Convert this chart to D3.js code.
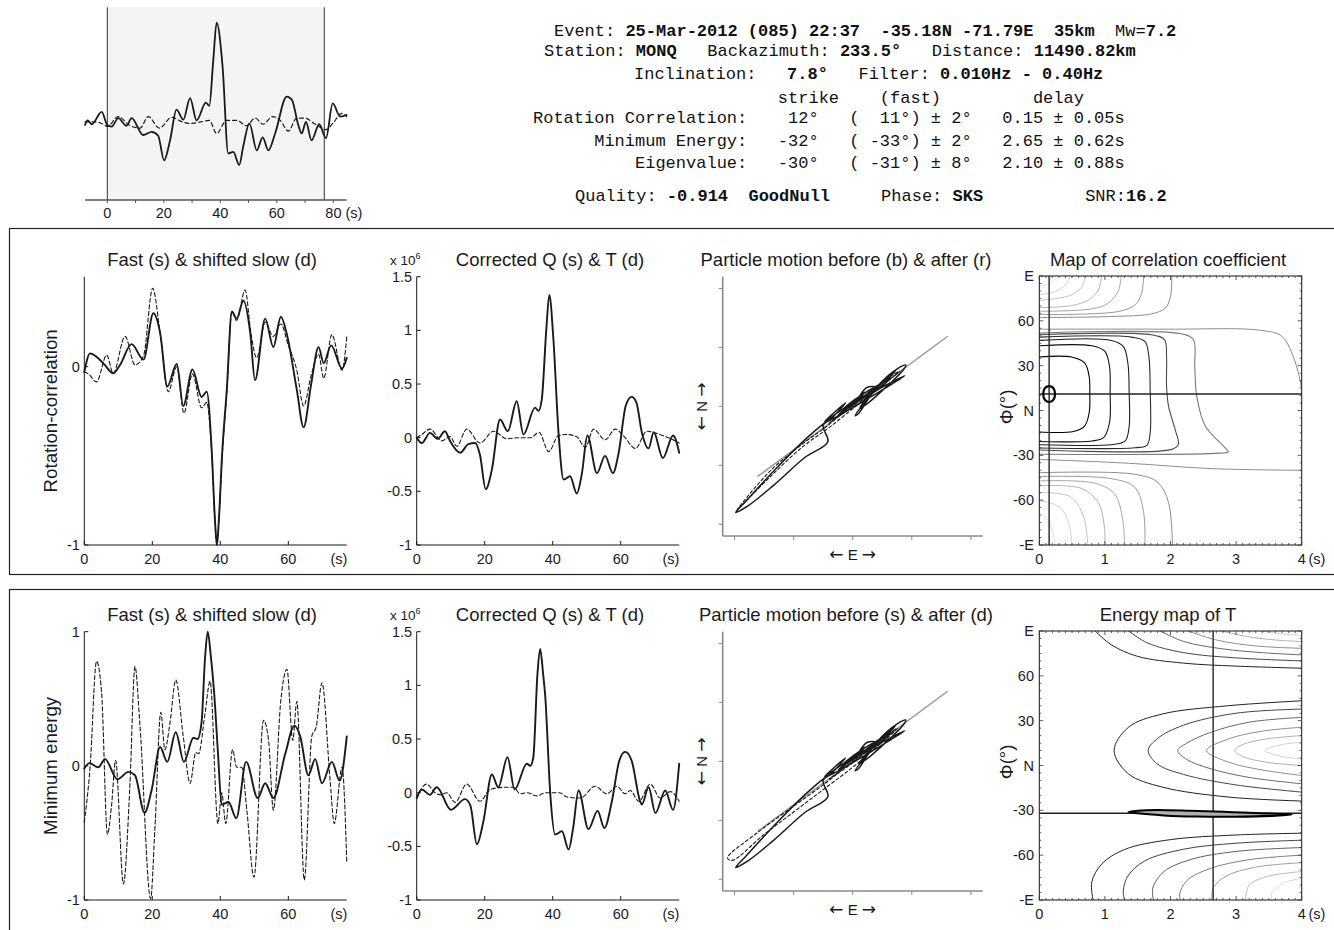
<!DOCTYPE html>
<html><head><meta charset="utf-8">
<script src="https://cdn.jsdelivr.net/npm/d3@7"></script>
<style>body{margin:0;background:#fff}svg{display:block}</style>
</head><body><svg id="chart" width="1334" height="930"></svg>
<script>
// ---------------- DATA ----------------
const winEnd = 76.8;                 // selected window end (s)
const backazimuth = 233.5;
const rcResult = [0.15, 11];         // delay (s), phi (deg)
const meResult = [2.65, -32];

// top: original Q (solid) and T (dashed), x1e6
const origQ = [[-7.9,0],[-7,0.06],[-5.5,0.01],[-2,0.17],[0,0],[1.5,-0.02],[3.9,0.09],[6.8,-0.01],[8.6,0.09],[12.7,-0.13],[15.7,-0.09],[18,-0.14],[20.1,-0.46],[22.2,-0.2],[24.5,0.2],[26.9,0.07],[29.3,0.35],[31.6,0.06],[34.9,0.29],[36.1,0.25],[37.5,0.84],[38.7,1.33],[40.8,0.76],[42.8,-0.37],[44.6,-0.35],[46.7,-0.52],[48.1,-0.28],[50.3,0.02],[52.9,-0.33],[55,-0.16],[57,-0.33],[59.4,-0.11],[63.5,0.37],[65.3,0.33],[67.6,0],[68.8,-0.11],[70.3,0.04],[72.3,-0.2],[75,0.01],[77.4,-0.17],[79.8,0.28],[82.4,0.11],[84.7,0.13]];
const origT = [[-7.9,0.04],[-4,0.04],[-1,0.0],[0,-0.02],[3.9,0.11],[7.7,0.0],[11.6,-0.04],[14.5,0.11],[18.4,-0.04],[22.8,0.1],[26.5,0.04],[29.5,0.02],[33,0.04],[36.1,0.06],[38.7,-0.11],[42.2,0.06],[45.8,0.06],[49.3,-0.01],[52.3,0.09],[55.2,0.01],[58.5,0.11],[61.2,0.06],[64.1,-0.08],[67,0.09],[70,0.09],[73.2,0.02],[77.4,-0.06],[80,0.03],[83,0.15],[84.7,0.11]];

// row 1: rotation-correlation
const rcFast = [[0,-0.03],[1.7,0.075],[3.6,0.056],[6,0.01],[8.5,-0.037],[10.5,0.01],[13.9,0.127],[17.4,0.04],[20.3,0.30],[22.3,0.19],[24.4,-0.11],[27.2,0.015],[29.1,-0.22],[31.8,-0.015],[34.5,-0.17],[36,-0.14],[37.5,-0.48],[38.4,-0.85],[39,-1.0],[39.6,-0.85],[40.5,-0.5],[41.9,-0.13],[43.4,0.31],[44.8,0.27],[46.8,0.37],[48.8,0.19],[50.2,-0.075],[53.2,0.27],[55.6,0.11],[57.8,0.28],[59.6,0.18],[62.5,-0.13],[64.5,-0.34],[66.7,-0.1],[68.9,0.11],[70.4,0.02],[72.6,0.12],[75.8,-0.01],[77.2,0.05]];
const rcSlow = [[0,-0.03],[1.2,-0.04],[3.6,-0.085],[6.6,0.065],[8.5,-0.037],[12,0.17],[14.9,0.01],[17.4,0.06],[20.1,0.44],[22.3,0.19],[24.7,-0.14],[27.2,0.0],[29.3,-0.26],[31.8,-0.04],[34.5,-0.23],[36,-0.2],[37.5,-0.5],[38.4,-0.86],[39,-1.0],[39.6,-0.86],[40.5,-0.52],[41.9,-0.15],[43.4,0.31],[44.8,0.26],[47.3,0.43],[49,0.19],[50.7,0.05],[53.2,0.25],[55.6,0.17],[57.8,0.24],[60,0.12],[62.5,-0.02],[64.5,-0.22],[66.7,-0.05],[68.9,0.07],[70.4,-0.065],[72.8,0.18],[75.8,-0.02],[77.2,0.17]];
const rcQ = [[0,0],[1.5,-0.05],[3.9,0.045],[6.2,-0.01],[8.3,0.06],[9.8,-0.03],[12.8,-0.14],[15.2,-0.06],[17.2,-0.05],[18.6,-0.16],[20.3,-0.48],[22.1,-0.3],[24.5,0.17],[26.8,0.06],[29.4,0.34],[31.4,0.03],[34.8,0.28],[35.8,0.25],[36.8,0.36],[38.1,1.0],[39.0,1.33],[40.2,0.92],[41.7,0.05],[43.2,-0.39],[45.1,-0.36],[47.1,-0.52],[48.6,-0.33],[50.2,0.02],[53,-0.33],[55.4,-0.17],[57.7,-0.33],[59.4,-0.14],[61.5,0.3],[63.2,0.38],[64.6,0.33],[66.2,0.05],[68.2,-0.1],[69.7,0.05],[72.4,-0.19],[75.4,0.02],[77.2,-0.14]];
const rcT = [[0,0],[1.5,0.03],[3.9,0.08],[7.4,-0.03],[9.8,0.01],[11.8,-0.08],[14.7,0.08],[18.6,-0.05],[22.6,0.06],[26.5,-0.01],[30,0.0],[33.5,0.0],[36,0.05],[38.8,-0.13],[41.7,0.02],[44,0.03],[47,0.01],[49.6,-0.09],[52,0.08],[55.4,-0.02],[58.4,0.08],[61,0.01],[64.3,-0.1],[67.7,0.06],[70.5,0.04],[74,0.0],[77.2,-0.05]];

// row 2: minimum energy
const meFast = [[0,-0.02],[1.5,0.02],[4.1,-0.01],[6.1,0.05],[9.7,-0.1],[13,-0.045],[14.9,-0.07],[17.7,-0.35],[19.8,-0.18],[22.3,0.14],[24.4,0.03],[26.9,0.25],[29.3,0.03],[32.1,0.21],[33.3,0.2],[34.5,0.33],[35.5,0.8],[36.3,1.0],[37.2,0.82],[38.2,0.54],[39.3,0.1],[40.4,-0.29],[42.4,-0.27],[44.7,-0.39],[47.6,0.03],[51,-0.24],[53.2,-0.13],[55.6,-0.24],[59.1,0.09],[61.8,0.30],[63.5,0.22],[65.9,-0.07],[67.9,0.05],[69.9,-0.13],[72.8,0.03],[75.1,-0.11],[77.2,0.22]];
const meSlow = [[0,-0.42],[1.7,-0.01],[3.6,0.78],[5.1,0.54],[6.8,-0.51],[8.0,-0.3],[9.2,0.04],[11.5,-0.88],[13.4,-0.15],[14.9,0.74],[16.4,0.29],[19.5,-0.99],[20.8,-0.45],[22.5,0.40],[23.7,0.12],[25.2,0.32],[26.9,0.64],[29.1,0.22],[31.1,-0.13],[32.8,0.1],[33.6,0.09],[35.5,0.39],[37,0.63],[39.3,-0.43],[40.4,-0.2],[41.6,-0.43],[43.6,0.12],[44.8,-0.01],[46.3,-0.01],[47.8,-0.33],[49.9,-0.83],[52.7,0.34],[54.2,0.19],[55.6,-0.33],[57.8,0.49],[59.6,0.72],[61.3,0.19],[62.5,0.48],[64.7,-0.85],[66.9,0.22],[68.2,0.29],[69.9,0.62],[72.3,-0.11],[73.5,-0.43],[75.8,-0.01],[77.2,-0.72]];
const meQ = [[0,-0.05],[1.5,0.03],[3.9,-0.02],[5.9,0.05],[10.1,-0.16],[14.2,-0.06],[15.8,-0.12],[17.7,-0.48],[19.6,-0.27],[22.1,0.17],[24,0.05],[26.7,0.33],[28.8,0.03],[32.4,0.27],[33.4,0.25],[34.3,0.33],[35.5,1.1],[36.3,1.34],[37.2,1.1],[37.8,0.9],[39.3,-0.02],[40.7,-0.39],[42.7,-0.36],[44.7,-0.53],[46,-0.33],[47.6,0.02],[50.5,-0.34],[53.2,-0.17],[55.2,-0.33],[57.4,-0.08],[59.6,0.3],[61.3,0.38],[63.2,0.3],[65.7,-0.08],[66.2,-0.11],[68.2,0.05],[70.2,-0.19],[73.1,0.02],[75.4,-0.16],[77.2,0.27]];
const meT = [[0,-0.05],[2.9,0.08],[5.4,0.0],[7,-0.02],[8.8,0.0],[11.3,-0.09],[14.7,0.08],[18.6,-0.08],[21.6,0.03],[25.5,0.05],[28.5,0.05],[30.4,-0.01],[32.5,0.0],[35.3,-0.03],[38,0.0],[42,0.0],[44.2,-0.04],[48.1,-0.05],[52.5,0.06],[55.9,-0.01],[58.9,0.06],[61.3,-0.01],[62.8,0.02],[65.3,-0.08],[68.7,0.08],[71.6,-0.05],[74.6,0.01],[77.2,-0.08]];

// particle motion (E, N)
const pmBefore = [[0.02,0.05],[0.10,0.12],[0.02,0.02],[0.12,0.16],[0.20,0.16],[0.05,0.06],[-0.05,-0.02],[0.08,0.10],[0.28,0.22],[0.36,0.30],[0.22,0.18],[0.00,0.02],[-0.12,-0.07],[-0.02,0.02],[-0.24,-0.13],[-0.06,0.03],[-0.20,-0.12],[-0.25,-0.15],[-0.39,-0.27],[-0.67,-0.55],[-0.90,-0.80],[-0.99,-0.90],[-0.88,-0.84],[-0.67,-0.67],[-0.40,-0.43],[-0.21,-0.30],[-0.25,-0.16],[-0.12,-0.08],[0.05,0.02],[0.22,0.12],[0.38,0.22],[0.44,0.26],[0.36,0.22],[0.15,0.10],[0.06,-0.02],[0.12,0.02],[0.30,0.18],[0.42,0.30],[0.45,0.35],[0.38,0.32],[0.20,0.16],[0.05,-0.06],[0.02,-0.08],[0.10,0.03],[0.25,0.20],[0.32,0.24],[0.18,0.12],[0.05,0.05],[-0.05,-0.02],[0.05,0.08],[-0.08,-0.02],[0.0,0.03]];
const pmAfterRC = [[0.02,0.03],[0.08,0.08],[-0.03,-0.01],[0.12,0.10],[0.25,0.20],[0.32,0.25],[0.15,0.12],[-0.05,-0.03],[-0.20,-0.14],[-0.05,-0.02],[-0.22,-0.17],[-0.40,-0.30],[-0.70,-0.55],[-0.98,-0.88],[-0.92,-0.82],[-0.68,-0.58],[-0.42,-0.34],[-0.20,-0.18],[0.05,0.02],[0.25,0.18],[0.40,0.30],[0.30,0.24],[0.10,0.06],[0.20,0.14],[0.38,0.28],[0.28,0.20],[0.05,0.02],[0.12,0.10],[0.0,0.0]];
const pmAfterME = [[0.0,0.02],[0.10,0.10],[-0.02,0.0],[0.15,0.12],[0.30,0.24],[0.20,0.15],[-0.05,-0.05],[-0.20,-0.15],[-0.10,-0.08],[-0.25,-0.20],[-0.50,-0.38],[-0.80,-0.60],[-1.06,-0.82],[-1.02,-0.84],[-0.75,-0.62],[-0.50,-0.43],[-0.25,-0.24],[0.0,-0.05],[0.20,0.12],[0.38,0.28],[0.25,0.20],[0.05,-0.02],[0.15,0.08],[0.35,0.26],[0.20,0.15],[0.0,0.0]];

// correlation map contours (delay s, phi deg)
const corrCentral = [
 [[0,35.8],[0.49,35.8],[0.69,31.8],[0.76,22.9],[0.77,11.8],[0.76,-1.6],[0.69,-10.4],[0.52,-14],[0,-14.4]],
 [[0,43.3],[0.80,43.3],[1.0,39.6],[1.07,29.6],[1.08,11.8],[1.07,-8.2],[0.98,-18.2],[0.80,-20.4],[0,-20.7]],
 [[0,46.9],[1.10,46.9],[1.28,42.9],[1.35,31.8],[1.37,11.8],[1.37,-10.4],[1.31,-20.4],[1.13,-22.7],[0,-22.9]],
 [[0,49.1],[1.41,49.1],[1.61,46.2],[1.67,36.2],[1.69,14],[1.69,-14.9],[1.64,-23.3],[1.46,-24.9],[0,-25.1]],
 [[0,50.7],[1.71,50.7],[1.91,47.3],[1.94,36.2],[1.94,16.2],[1.97,2.9],[2.07,-12.7],[2.12,-22.7],[2.02,-26],[0,-26.4]],
 [[0,51.8],[2.17,51.3],[2.35,47.3],[2.37,29.6],[2.40,9.6],[2.53,-10.4],[2.83,-24.9],[2.88,-27.6],[2.68,-28.7],[0,-29.3]]
];
const corrOuter = [
 [[0,54.4],[1.87,54.4],[3.39,53.6],[3.70,49.6],[3.85,38.4],[3.95,25.1],[4.0,14]],
 [[0,-32.7],[1.36,-35.3],[2.63,-38.9],[4.0,-40]]
];
const corrTop = [
 [[2.02,90],[2.0,76.2],[1.92,68.4],[1.71,64.7],[1.10,62.9],[0,62.2]],
 [[1.59,90],[1.56,78.4],[1.46,70.7],[1.20,66.2],[0,64.2]],
 [[1.25,90],[1.20,79.6],[1.05,71.8],[0.80,68],[0,66.4]],
 [[0.95,90],[0.90,80.7],[0.75,74],[0.49,70.2],[0,68.9]],
 [[0.70,90],[0.65,82.9],[0.49,77.3],[0,73.6]],
 [[0.48,90],[0.40,84],[0.24,79.6],[0,77.6]],
 [[0.29,90],[0.19,85.6],[0,82.4]]
];
const corrBottom = [
 [[0,-41.6],[1.46,-42.7],[1.81,-48.2],[1.97,-61.6],[2.03,-90]],
 [[0,-44.2],[1.10,-45.6],[1.46,-51.6],[1.59,-68.2],[1.61,-90]],
 [[0,-47.1],[0.85,-48.7],[1.15,-56],[1.27,-72.7],[1.30,-90]],
 [[0,-50.4],[0.65,-52.2],[0.90,-61.6],[0.99,-77.1],[1.0,-90]],
 [[0,-54.9],[0.47,-57.6],[0.67,-70.4],[0.74,-90]],
 [[0,-60.4],[0.32,-64.9],[0.47,-79.3],[0.49,-90]],
 [[0,-68.2],[0.16,-74.9],[0.24,-90]]
];
const corrErr = [[0.06,11],[0.087,15],[0.15,16.3],[0.213,15],[0.24,11],[0.213,7],[0.15,5.7],[0.087,7]];

// energy map contours
const energyMid = [
 [[4,43.3],[2.88,40],[1.87,34.4],[1.36,25.6],[1.14,10],[1.36,-5.6],[1.87,-14.4],[2.88,-21.1],[4,-23.8]],
 [[4,37.8],[3.0,35],[2.2,27],[1.8,18],[1.66,10],[1.8,1],[2.2,-6],[3.0,-13],[4,-17.8]],
 [[4,32.2],[3.2,29],[2.6,22],[2.25,15],[2.11,10],[2.25,4],[2.6,-2],[3.2,-8],[4,-12.2]],
 [[4,25.6],[3.4,23],[2.9,18],[2.55,10],[2.9,2],[3.4,-3],[4,-6.7]],
 [[4,20],[3.5,18],[3.1,14],[2.98,10],[3.1,6],[3.5,2],[4,0]],
 [[4,15.6],[3.7,14],[3.44,10],[3.7,6],[4,4.4]]
];
const energyTop = [
 [[0.85,90],[1.1,80.7],[1.5,73],[2.2,68.5],[3.0,66.5],[4,65.1]],
 [[1.36,90],[1.65,82],[2.2,75.5],[3.0,72],[4,70]],
 [[1.84,90],[2.2,83],[2.8,78],[3.4,75.5],[4,74]],
 [[2.27,90],[2.7,84],[3.3,80],[4,78.4]],
 [[2.78,90],[3.2,86],[3.6,84],[4,82.9]],
 [[3.39,90],[3.7,88],[4,87]]
];
const energyBottom = [
 [[4,-45.3],[3.0,-46.5],[2.0,-49.6],[1.3,-56.2],[0.95,-66],[0.8,-78],[0.82,-90]],
 [[4,-50],[3.0,-52],[2.2,-56],[1.6,-64],[1.35,-74],[1.28,-84],[1.3,-90]],
 [[4,-54.9],[3.0,-57.5],[2.3,-63],[1.9,-71],[1.73,-82],[1.74,-90]],
 [[4,-60],[3.2,-63],[2.6,-69],[2.25,-77],[2.14,-86],[2.15,-90]],
 [[4,-65],[3.3,-68],[2.85,-74],[2.65,-82],[2.63,-90]],
 [[4,-71],[3.5,-74],[3.2,-80],[3.14,-90]],
 [[4,-75.5],[3.7,-79],[3.54,-86],[3.55,-90]]
];
const energyErr = [[1.36,-31.0],[1.5,-30.2],[1.8,-29.8],[2.3,-30.3],[2.8,-31.0],[3.3,-31.8],[3.85,-32.8],[3.6,-33.6],[3.0,-34.3],[2.4,-34.2],[1.9,-33.4],[1.5,-32.0]];

// tick labels
const topTicks = [0,20,40,60,80];
const traceXTicks = [0,20,40,60];
const rcYTicks = [0,-1];
const meYTicks = [1,0,-1];
const qYTicks = [1.5,1,0.5,0,-0.5,-1];
const pmTicks = [-1,-0.5,0,0.5,1];
const mapXTicks = [0,1,2,3,4];
const phiTicks = [-90,-60,-30,0,30,60,90];
const phiTickLabels = ["-E","-60","-30","N","30","60","E"];

const headerText = [
 [["Event: ",0],["25-Mar-2012 (085) 22:37  -35.18N -71.79E  35km",1],["  Mw=",0],["7.2",1]],
 [["Station: ",0],["MONQ",1],["   Backazimuth: ",0],["233.5°",1],["   Distance: ",0],["11490.82km",1]],
 [["Inclination:   ",0],["7.8°",1],["   Filter: ",0],["0.010Hz - 0.40Hz",1]],
 [["                        strike    (fast)         delay",0]],
 [["Rotation Correlation:    12°   (  11°) ± 2°   0.15 ± 0.05s",0]],
 [["      Minimum Energy:   -32°   ( -33°) ± 2°   2.65 ± 0.62s",0]],
 [["          Eigenvalue:   -30°   ( -31°) ± 8°   2.10 ± 0.88s",0]],
 [["Quality: ",0],["-0.914",1],["  ",0],["GoodNull",1],["     Phase: ",0],["SKS",1],["          SNR:",0],["16.2",1]]
];
const rowNames = ["Rotation-correlation","Minimum energy"];
const col1Titles = ["Fast (s) & shifted slow (d)","Fast (s) & shifted slow (d)"];
const col2Titles = ["Corrected Q (s) & T (d)","Corrected Q (s) & T (d)"];
const col3Titles = ["Particle motion before (b) & after (r)","Particle motion before (s) & after (d)"];
const col4Titles = ["Map of correlation coefficient","Energy map of T"];

// ---------------- DRAW ----------------
const svg = d3.select("#chart");
const SANS = "'Liberation Sans', Arial, Helvetica, sans-serif";
const MONO = "'Liberation Mono', 'Courier New', monospace";
const INK = "#1a1a1a";
const TF = 14.5;

function txt(g, x, y, s, size, anchor, rot) {
  const t = g.append("text").attr("font-family", SANS).attr("font-size", size)
    .attr("fill", INK).attr("text-anchor", anchor || "middle").text(s);
  if (rot) t.attr("transform", `translate(${x},${y}) rotate(-90)`);
  else t.attr("x", x).attr("y", y);
  return t;
}
function arrowTxt(g, x, y, letter, rot) {
  const t = g.append("text").attr("font-family", SANS).attr("font-size", 15)
    .attr("fill", INK).attr("text-anchor", "middle");
  if (rot) t.attr("transform", `translate(${x},${y}) rotate(-90)`);
  else t.attr("x", x).attr("y", y);
  t.append("tspan").attr("font-family", "'DejaVu Sans', sans-serif").attr("font-size", 17).text("\u2190");
  t.append("tspan").text(" " + letter + " ");
  t.append("tspan").attr("font-family", "'DejaVu Sans', sans-serif").attr("font-size", 17).text("\u2192");
  return t;
}
function lineGen(xs, ys, curve) {
  return d3.line().x(d => xs(d[0])).y(d => ys(d[1])).curve(curve || d3.curveMonotoneX);
}
function draw(g, data, gen, stroke, w, dash) {
  const p = g.append("path").datum(data).attr("d", gen).attr("fill", "none")
    .attr("stroke", stroke).attr("stroke-width", w).attr("stroke-linejoin", "round").attr("stroke-linecap", "round");
  if (dash) p.attr("stroke-dasharray", dash);
  return p;
}

// header text
const hx = [554, 544, 634, 533, 533, 533, 533, 575];
const hy = [36, 56, 79, 103, 123, 146, 168, 201];
headerText.forEach((segs, i) => {
  const t = svg.append("text").attr("x", hx[i]).attr("y", hy[i]).attr("font-family", MONO)
    .attr("font-size", 17).attr("fill", "#111").attr("xml:space", "preserve").style("white-space", "pre");
  segs.forEach(s => t.append("tspan").attr("font-weight", s[1] ? "bold" : "normal").text(s[0]));
});

// top-left overview trace
{
  const g = svg.append("g");
  const x = d3.scaleLinear().domain([-7.9, 84.7]).range([85, 346.6]);
  const y = d3.scaleLinear().domain([-0.975, 1.53]).range([200, 7.3]);
  g.append("rect").attr("x", x(0)).attr("y", y(1.53)).attr("width", x(winEnd) - x(0))
    .attr("height", y(-0.975) - y(1.53)).attr("fill", "#f4f4f4");
  [0, winEnd].forEach(v => g.append("line").attr("x1", x(v)).attr("x2", x(v)).attr("y1", y(1.53)).attr("y2", y(-0.975))
    .attr("stroke", "#333").attr("stroke-width", 1));
  draw(g, origT, lineGen(x, y), INK, 1.2, "4,3");
  draw(g, origQ, lineGen(x, y), INK, 1.8);
  g.append("line").attr("x1", x(-7.9)).attr("x2", x(84.7)).attr("y1", 200).attr("y2", 200).attr("stroke", "#555").attr("stroke-width", 1.4);
  d3.range(0, 81, 10).forEach(v => g.append("line").attr("x1", x(v)).attr("x2", x(v)).attr("y1", 200).attr("y2", 203).attr("stroke", "#555"));
  topTicks.forEach(v => {
    if (v === 80) txt(g, x(v) - 8, 218, "80 (s)", TF, "start");
    else txt(g, x(v), 218, String(v), TF, "middle");
  });
}

// frames
svg.append("rect").attr("x", 9.5).attr("y", 228.5).attr("width", 1400).attr("height", 346).attr("fill", "none").attr("stroke", "#222").attr("stroke-width", 1.2);
svg.append("rect").attr("x", 9.5).attr("y", 589.5).attr("width", 1400).attr("height", 400).attr("fill", "none").attr("stroke", "#222").attr("stroke-width", 1.2);

const rowTop = [276.7, 631.7], rowBot = [545, 900];
const fmt = v => String(v);

function traceAxes(g, x, y, yTicks, bottom, top, sX) {
  g.append("line").attr("x1", x.range()[0]).attr("x2", x.range()[1]).attr("y1", bottom).attr("y2", bottom).attr("stroke", INK).attr("stroke-width", 1);
  g.append("line").attr("x1", x.range()[0]).attr("x2", x.range()[0]).attr("y1", top).attr("y2", bottom).attr("stroke", INK).attr("stroke-width", 1);
  traceXTicks.forEach(v => {
    g.append("line").attr("x1", x(v)).attr("x2", x(v)).attr("y1", bottom).attr("y2", bottom - 4).attr("stroke", INK);
    txt(g, x(v), bottom + 19, String(v), TF);
  });
  txt(g, sX, bottom + 19, "(s)", TF);
  yTicks.forEach(v => {
    g.append("line").attr("x1", x.range()[0]).attr("x2", x.range()[0] + 4).attr("y1", y(v)).attr("y2", y(v)).attr("stroke", INK);
    txt(g, x.range()[0] - 4.5, y(v) + 5, fmt(v), TF, "end");
  });
}

for (let r = 0; r < 2; r++) {
  const g = svg.append("g");
  const top = rowTop[r], bot = rowBot[r];
  // col 1
  const x1 = d3.scaleLinear().domain([0, 77.2]).range([84.3, 346.8]);
  const y1 = r === 0 ? d3.scaleLinear().domain([-1, 0.505]).range([bot, top]) : d3.scaleLinear().domain([-1, 1]).range([bot, top]);
  traceAxes(g, x1, y1, r === 0 ? rcYTicks : meYTicks, bot, top, 339);
  draw(g, r === 0 ? rcSlow : meSlow, lineGen(x1, y1), INK, 1.1, "4,2.5");
  draw(g, r === 0 ? rcFast : meFast, lineGen(x1, y1), INK, 1.9);
  txt(g, 212, top - 11, col1Titles[r], 18.5);
  txt(g, 57, (top + bot) / 2, rowNames[r], 18.7, "middle", true);

  // col 2
  const x2 = d3.scaleLinear().domain([0, 77.2]).range([416.7, 679.2]);
  const y2 = d3.scaleLinear().domain([-1, 1.5]).range([bot, top]);
  traceAxes(g, x2, y2, qYTicks, bot, top, 671);
  draw(g, r === 0 ? rcT : meT, lineGen(x2, y2), INK, 1.1, "4,2.5");
  draw(g, r === 0 ? rcQ : meQ, lineGen(x2, y2), INK, 1.9);
  txt(g, 550, top - 11, col2Titles[r], 18.5);
  const xl = txt(g, 390, top - 11.5, "x 10", 13.5, "start");
  xl.append("tspan").attr("dy", -6).attr("font-size", 9).text("6");

  // col 3 particle motion
  const x3 = d3.scaleLinear().domain([-1.1, 1.1]).range([722.7, 982.7]);
  const b3 = bot - 9;
  const y3 = d3.scaleLinear().domain([-1.1, 1.1]).range([b3, top]);
  const ax = "#8a8a8a";
  g.append("line").attr("x1", x3(-1.1)).attr("x2", x3(1.1)).attr("y1", b3).attr("y2", b3).attr("stroke", ax).attr("stroke-width", 1.6);
  g.append("line").attr("x1", x3(-1.1)).attr("x2", x3(-1.1)).attr("y1", top).attr("y2", b3).attr("stroke", ax).attr("stroke-width", 1.6);
  pmTicks.forEach(v => {
    g.append("line").attr("x1", x3(v)).attr("x2", x3(v)).attr("y1", b3).attr("y2", b3 + 4).attr("stroke", ax);
    g.append("line").attr("x1", x3(-1.1)).attr("x2", x3(-1.1) - 4).attr("y1", y3(v)).attr("y2", y3(v)).attr("stroke", ax);
  });
  const th = (90 - (backazimuth - 180)) * Math.PI / 180;
  g.append("line").attr("x1", x3(-Math.cos(th))).attr("y1", y3(-Math.sin(th)))
    .attr("x2", x3(Math.cos(th))).attr("y2", y3(Math.sin(th))).attr("stroke", "#999").attr("stroke-width", 1.5);
  const pg = lineGen(x3, y3, d3.curveCatmullRom.alpha(0.5));
  draw(g, pmBefore, pg, INK, 1.5);
  draw(g, r === 0 ? pmAfterRC : pmAfterME, pg, INK, 1.1, "3,2.5");
  txt(g, 846, top - 11, col3Titles[r], 18.5);
  arrowTxt(g, 852.7, b3 + 24, "E", false);
  arrowTxt(g, 707, (top + b3) / 2, "N", true);

  // col 4 map
  const x4 = d3.scaleLinear().domain([0, 4]).range([1039.3, 1301.7]);
  const y4 = d3.scaleLinear().domain([-90, 90]).range([bot, top - 0.7]);
  const clipId = "clip" + r;
  g.append("clipPath").attr("id", clipId).append("rect").attr("x", x4(0)).attr("y", y4(90)).attr("width", x4(4) - x4(0)).attr("height", y4(-90) - y4(90));
  const cg = g.append("g").attr("clip-path", `url(#${clipId})`);
  const cgen = lineGen(x4, y4, d3.curveCatmullRom.alpha(0.5));
  const closedGen = lineGen(x4, y4, d3.curveCatmullRomClosed.alpha(0.5));
  if (r === 0) {
    const ec = d3.scaleLinear().domain([0, 6]).range(["#8a8a8a", "#dedede"]);
    corrTop.forEach((c, i) => draw(cg, c, cgen, ec(i), 1));
    corrBottom.forEach((c, i) => draw(cg, c, cgen, ec(i), 1));
    corrOuter.forEach(c => draw(cg, c, cgen, "#8c8c8c", 1));
    const cc = ["#000", "#111", "#1c1c1c", "#2a2a2a", "#4a4a4a", "#7a7a7a"];
    corrCentral.forEach((c, i) => draw(cg, c, cgen, cc[i], 1.1));
  } else {
    const mc = d3.scaleLinear().domain([0, 5]).range(["#222", "#d2d2d2"]);
    energyMid.forEach((c, i) => draw(cg, c, cgen, mc(i), 1));
    energyTop.forEach((c, i) => draw(cg, c, cgen, mc(i), 1));
    const bc = d3.scaleLinear().domain([0, 6]).range(["#222", "#dadada"]);
    energyBottom.forEach((c, i) => draw(cg, c, cgen, bc(i), 1));
  }
  const res = r === 0 ? rcResult : meResult;
  cg.append("line").attr("x1", x4(res[0])).attr("x2", x4(res[0])).attr("y1", y4(90)).attr("y2", y4(-90)).attr("stroke", "#333").attr("stroke-width", 1.5);
  cg.append("line").attr("x1", x4(0)).attr("x2", x4(4)).attr("y1", y4(res[1])).attr("y2", y4(res[1])).attr("stroke", "#222").attr("stroke-width", 1.5);
  if (r === 0) draw(cg, corrErr, closedGen, "#000", 2.2);
  else draw(cg, energyErr, closedGen, "#000", 2).attr("fill", "#b0b0b0");
  // frame and ticks
  g.append("rect").attr("x", x4(0)).attr("y", y4(90)).attr("width", x4(4) - x4(0)).attr("height", y4(-90) - y4(90))
    .attr("fill", "none").attr("stroke", "#111").attr("stroke-width", 1);
  d3.range(0, 4.001, 0.1).forEach(v => {
    const L = Math.abs(v - Math.round(v)) < 1e-6 ? 4 : 2;
    g.append("line").attr("x1", x4(v)).attr("x2", x4(v)).attr("y1", bot).attr("y2", bot - L).attr("stroke", "#333").attr("stroke-width", 0.8);
    g.append("line").attr("x1", x4(v)).attr("x2", x4(v)).attr("y1", y4(90)).attr("y2", y4(90) + L).attr("stroke", "#333").attr("stroke-width", 0.8);
  });
  d3.range(-90, 90.001, 5).forEach(v => {
    const L = v % 30 === 0 ? 4 : 2;
    g.append("line").attr("x1", x4(0)).attr("x2", x4(0) + L).attr("y1", y4(v)).attr("y2", y4(v)).attr("stroke", "#333").attr("stroke-width", 0.8);
    g.append("line").attr("x1", x4(4)).attr("x2", x4(4) - L).attr("y1", y4(v)).attr("y2", y4(v)).attr("stroke", "#333").attr("stroke-width", 0.8);
  });
  mapXTicks.forEach(v => txt(g, x4(v), bot + 19, String(v), TF));
  txt(g, 1317, bot + 19, "(s)", TF);
  phiTicks.forEach((v, i) => txt(g, 1034, y4(v) + 5, phiTickLabels[i], TF, "end"));
  txt(g, 1013, (top + bot) / 2 - 4, "\u03A6(\u00B0)", 18.7, "middle", true);
  txt(g, 1168, top - 11, col4Titles[r], 18.5);
}
</script>
</body></html>
